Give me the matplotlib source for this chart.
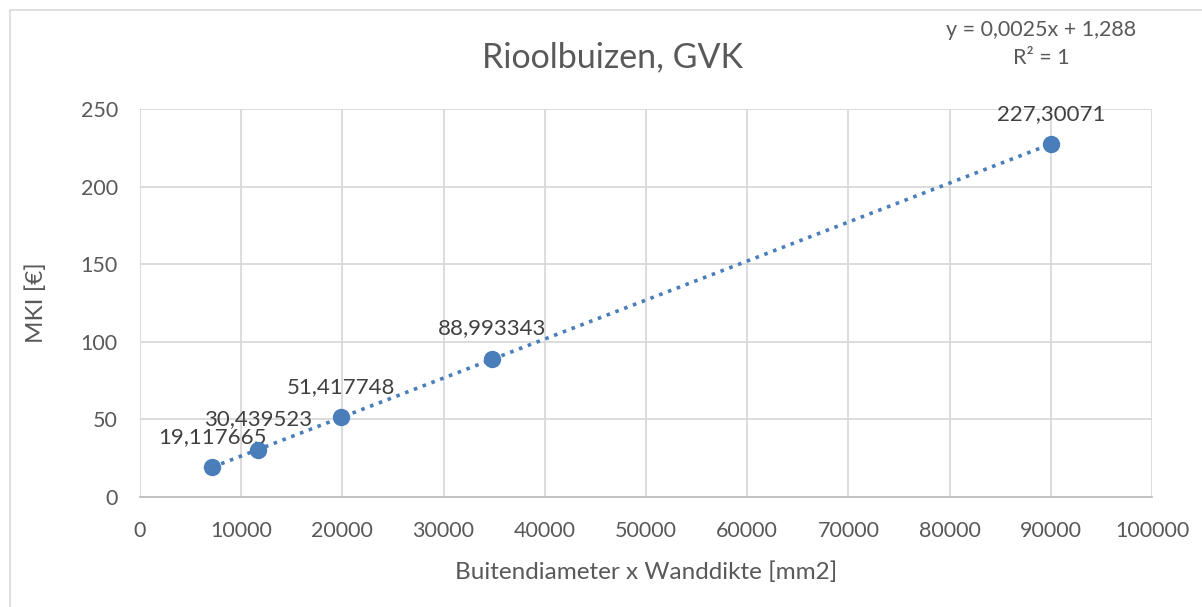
import matplotlib.pyplot as plt
from matplotlib.patches import Rectangle
import numpy as np

# data
x_vals = [7150, 11660, 19900, 34800, 90000]
y_vals = [19.117665, 30.439523, 51.417748, 88.993343, 227.30071]
point_labels = ["19,117665", "30,439523", "51,417748", "88,993343", "227,30071"]
x_ticks = [0, 10000, 20000, 30000, 40000, 50000, 60000, 70000, 80000, 90000, 100000]
y_ticks = [0, 50, 100, 150, 200, 250]

blue = "#4a7ebb"
grey_txt = "#595959"
plt.rcParams['font.family'] = ['Lato', 'DejaVu Sans']

fig = plt.figure(figsize=(12.02, 6.07), dpi=100)
W, H = 1202, 607
ax = fig.add_axes([140 / W, 1 - 497 / H, (1152 - 140) / W, (497 - 109) / H])

# chart border (cropped screenshot)
fig.patches.append(Rectangle((10 / W, -0.1), 1.2, 1 - 10 / H + 0.1, transform=fig.transFigure,
                             fill=False, edgecolor="#d9d9d9", linewidth=1.2))

# linear trendline
coef = np.polyfit(x_vals, y_vals, 1)
xt = np.array([min(x_vals), max(x_vals)])
ax.plot(xt, np.polyval(coef, xt), color=blue, linestyle=(0, (1, 1.6)), linewidth=2.6, zorder=3)

ax.plot(x_vals, y_vals, 'o', color=blue, markersize=11.5, zorder=4)
for xv, yv, lab in zip(x_vals, y_vals, point_labels):
    ax.annotate(lab, (xv, yv), xytext=(0, 22), textcoords='offset points',
                ha='center', va='center', fontsize=16, color="#404040")

ax.set_xlim(0, 100000)
ax.set_ylim(0, 250)
ax.set_xticks(x_ticks)
ax.set_yticks(y_ticks)
ax.set_xticklabels([str(t) for t in x_ticks])
ax.grid(True, color="#d9d9d9", linewidth=1.3)
ax.set_axisbelow(True)
for s in ["top", "right", "left"]:
    ax.spines[s].set_visible(False)
ax.spines["bottom"].set_color("#bfbfbf")
ax.spines["bottom"].set_linewidth(1.3)
ax.tick_params(axis='x', length=0, labelsize=15.5, labelcolor=grey_txt, pad=17)
ax.tick_params(axis='y', length=0, labelsize=15.5, labelcolor=grey_txt, pad=16)

ax.set_xlabel("Buitendiameter x Wanddikte [mm2]", fontsize=17.5, color=grey_txt, labelpad=15)
ax.set_ylabel("MKI [€]", fontsize=17.5, color=grey_txt, labelpad=24)

fig.text(613 / W, 1 - 57 / H, "Rioolbuizen, GVK", ha='center', va='center', fontsize=24.5, color=grey_txt)
fig.text(1041 / W, 1 - 30 / H, "y = 0,0025x + 1,288", ha='center', va='center', fontsize=15.5, color=grey_txt)
fig.text(1041 / W, 1 - 58 / H, "R² = 1", ha='center', va='center', fontsize=15.5, color=grey_txt)

fig.savefig("out.png", dpi=100)
